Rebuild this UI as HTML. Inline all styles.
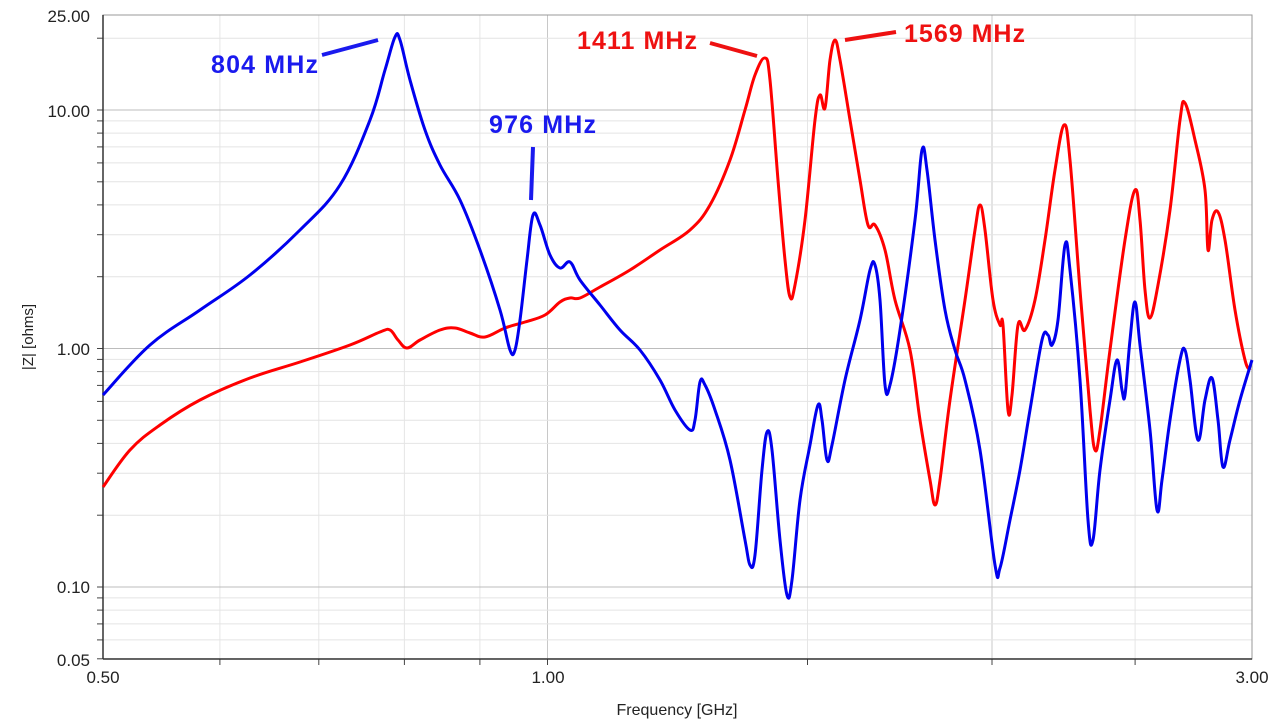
<!DOCTYPE html>
<html><head><meta charset="utf-8"><style>
html,body{margin:0;padding:0;background:#fff;}
svg{display:block;font-family:"Liberation Sans",sans-serif;}
</style></head><body>
<svg id="s" width="1280" height="721" viewBox="0 0 1280 721" xmlns="http://www.w3.org/2000/svg">
<g id="grid"></g>
<rect x="103" y="15" width="1149" height="644" fill="none" stroke="#999" stroke-width="1"/>
<line x1="103" y1="15" x2="103" y2="659" stroke="#333" stroke-width="1.5"/>
<line x1="103" y1="659" x2="1252" y2="659" stroke="#333" stroke-width="1.5"/>
<g font-size="17" fill="#222" text-anchor="end">
<text x="90" y="22">25.00</text>
<text x="90" y="117">10.00</text>
<text x="90" y="355">1.00</text>
<text x="90" y="593">0.10</text>
<text x="90" y="666">0.05</text>
</g>
<g font-size="17" fill="#222" text-anchor="middle">
<text x="103" y="683">0.50</text>
<text x="548" y="683">1.00</text>
<text x="1252" y="683">3.00</text>
<text x="677" y="715" font-size="16">Frequency [GHz]</text>
</g>
<text x="33" y="337" font-size="15" fill="#222" text-anchor="middle" transform="rotate(-90 33 337)">|Z| [ohms]</text>
<path id="red" fill="none" stroke="#ff0000" stroke-width="3" stroke-linejoin="round"/>
<path id="blue" fill="none" stroke="#0000ee" stroke-width="3" stroke-linejoin="round"/>
<g font-family="'Liberation Sans',sans-serif" font-weight="bold" font-size="25">
<text x="211" y="73" fill="#1a1aee" textLength="107">804 MHz</text>
<text x="489" y="133" fill="#1a1aee" textLength="107">976 MHz</text>
<text x="577" y="49" fill="#ee1111" textLength="120">1411 MHz</text>
<text x="904" y="42" fill="#ee1111" textLength="121">1569 MHz</text>
</g>
<line x1="322" y1="55" x2="378" y2="40" stroke="#1a1aee" stroke-width="4"/>
<line x1="533" y1="147" x2="531" y2="200" stroke="#1a1aee" stroke-width="4"/>
<line x1="710" y1="43" x2="757" y2="56" stroke="#ee1111" stroke-width="4"/>
<line x1="845" y1="40" x2="896" y2="32" stroke="#ee1111" stroke-width="4"/>
</svg>
<script>
(function(){
var g=document.getElementById('grid'),h='';
function X(f){return 103+1149*Math.log10(f/0.5)/Math.log10(6);}
function Y(v){return 348.5-238.5*Math.log10(v);}
[0.6,0.7,0.8,0.9,1.0,1.5,2.0,2.5].forEach(function(f){var x=X(f).toFixed(1);h+='<line x1="'+x+'" y1="15" x2="'+x+'" y2="659" stroke="'+(f==1||f==2?'#c8c8c8':'#e6e6e6')+'" stroke-width="1"/>';h+='<line x1="'+x+'" y1="659" x2="'+x+'" y2="665" stroke="#444"/>';});
[0.01,0.1,1,10].forEach(function(d){for(var k=1;k<10;k++){var v=d*k;if(v<0.05||v>25)continue;var y=Y(v).toFixed(1);h+='<line x1="103" y1="'+y+'" x2="1252" y2="'+y+'" stroke="'+(k==1?'#bcbcbc':'#e4e4e4')+'" stroke-width="1"/>';h+='<line x1="97" y1="'+y+'" x2="103" y2="'+y+'" stroke="#444"/>';}});
g.innerHTML=h;
function spline(s){var a=s.trim().split(/\s+/).map(function(p){return p.split(',').map(Number);});
var d='M'+a[0][0]+','+a[0][1];
for(var i=0;i<a.length-1;i++){var p0=a[Math.max(i-1,0)],p1=a[i],p2=a[i+1],p3=a[Math.min(i+2,a.length-1)];var t=0.18;
var c1x=p1[0]+(p2[0]-p0[0])*t,c1y=p1[1]+(p2[1]-p0[1])*t,c2x=p2[0]-(p3[0]-p1[0])*t,c2y=p2[1]-(p3[1]-p1[1])*t;
c1x=Math.min(Math.max(c1x,p1[0]),p2[0]);c2x=Math.min(Math.max(c2x,p1[0]),p2[0]);
d+=' C'+c1x.toFixed(1)+','+c1y.toFixed(1)+' '+c2x.toFixed(1)+','+c2y.toFixed(1)+' '+p2[0]+','+p2[1];}
return d;}
document.getElementById('red').setAttribute('d',spline("103,487 130,450 160,425 200,400 250,378 300,362 350,345 380,332 390,330 398,340 407,348 420,340 440,330 455,328 470,333 485,337 505,328 525,322 545,315 560,302 570,298 580,298 600,287 630,270 660,250 690,230 710,205 730,160 745,110 755,75 765,58 770,80 778,180 785,260 790,297 795,285 805,220 815,120 820,95 825,108 830,60 835,40 840,60 850,120 860,180 868,225 875,225 885,250 895,300 910,350 920,420 930,480 935,505 940,480 950,400 965,300 975,230 980,205 985,230 993,300 1000,325 1003,325 1008,410 1012,395 1018,325 1025,330 1035,300 1045,240 1055,170 1064,125 1070,160 1080,290 1090,410 1095,450 1100,430 1110,350 1125,240 1135,190 1140,220 1145,290 1150,318 1158,285 1170,210 1180,120 1185,103 1195,140 1205,190 1208,250 1212,220 1218,212 1225,240 1235,310 1245,360 1250,370"));
document.getElementById('blue').setAttribute('d',spline("103,395 150,345 200,310 250,275 300,230 340,185 370,120 385,70 395,37 400,40 410,80 425,130 440,165 460,200 480,250 500,310 510,350 515,350 520,320 527,260 533,215 540,225 550,255 560,268 570,262 580,280 600,305 620,330 640,350 660,380 675,410 690,430 695,420 700,382 705,385 715,410 730,460 745,540 750,565 755,555 762,470 767,432 772,450 780,540 787,595 792,580 800,500 810,445 818,405 822,420 827,460 832,445 845,380 860,320 870,270 875,265 880,300 885,385 890,385 900,330 915,220 922,150 927,170 935,240 945,310 955,350 965,380 980,450 995,565 1000,568 1010,520 1020,470 1030,410 1042,340 1048,335 1052,345 1058,320 1065,245 1070,270 1080,380 1088,520 1093,540 1100,470 1110,400 1117,360 1122,390 1125,395 1130,340 1135,302 1140,345 1150,430 1157,510 1162,480 1170,420 1180,360 1185,350 1190,380 1198,440 1205,400 1212,378 1218,420 1223,467 1230,440 1240,400 1252,360"));
})();
</script>
</body></html>
